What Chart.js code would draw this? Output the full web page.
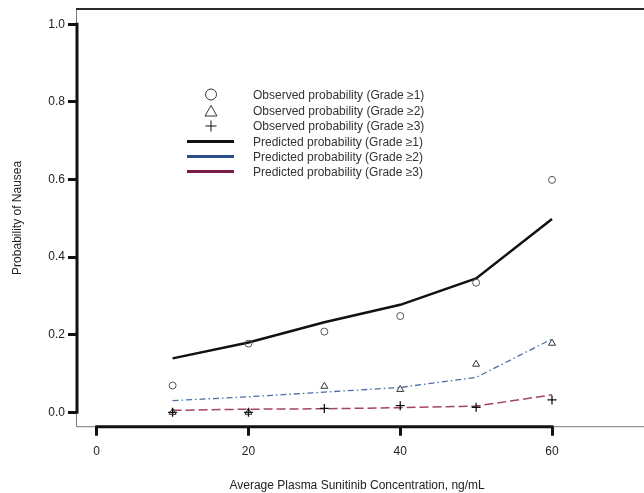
<!DOCTYPE html>
<html><head><meta charset="utf-8">
<script src="https://cdn.jsdelivr.net/npm/chart.js@4"></script>
<style>html,body{margin:0;padding:0;background:#fff}#wrap{width:644px;height:493px;position:relative}</style>
</head><body><div id="wrap"><canvas id="c" width="644" height="493"></canvas></div>
<script>
const concentrations = [10, 20, 30, 40, 50, 60];
const observedG1 = [0.069, 0.177, 0.208, 0.248, 0.334, 0.599];
const observedG2 = [0.000, 0.000, 0.067, 0.059, 0.124, 0.178];
const observedG3 = [0.000, 0.000, 0.010, 0.017, 0.013, 0.032];
const predictedG1 = [0.139, 0.180, 0.232, 0.277, 0.345, 0.498];
const predictedG2 = [0.030, 0.040, 0.052, 0.064, 0.090, 0.189];
const predictedG3 = [0.005, 0.008, 0.009, 0.012, 0.016, 0.045];
const xTicks = [0, 20, 40, 60];
const yTicks = [0.0, 0.2, 0.4, 0.6, 0.8, 1.0];
const legendLabels = [
  'Observed probability (Grade \u22651)',
  'Observed probability (Grade \u22652)',
  'Observed probability (Grade \u22653)',
  'Predicted probability (Grade \u22651)',
  'Predicted probability (Grade \u22652)',
  'Predicted probability (Grade \u22653)'
];

const pts = arr => concentrations.map((x, i) => ({x: x, y: arr[i]}));
const FONT = 'Liberation Sans, Arial, sans-serif';

const frame = {
  id: 'frame',
  afterDraw(chart) {
    const ctx = chart.ctx, a = chart.chartArea;
    const xs = chart.scales.x, ys = chart.scales.y;
    ctx.save();
    ctx.strokeStyle = '#777'; ctx.lineWidth = 1;
    ctx.beginPath();
    ctx.moveTo(a.left + 0.5, a.top); ctx.lineTo(a.left + 0.5, a.bottom);
    ctx.lineTo(chart.width, a.bottom);
    ctx.stroke();
    ctx.strokeStyle = '#2a2a2a'; ctx.lineWidth = 2;
    ctx.beginPath(); ctx.moveTo(a.left, a.top); ctx.lineTo(chart.width, a.top); ctx.stroke();
    ctx.strokeStyle = '#111'; ctx.lineWidth = 3; ctx.lineCap = 'butt';
    ctx.beginPath();
    ctx.moveTo(a.left + 1, ys.getPixelForValue(1.0) - 1.5);
    ctx.lineTo(a.left + 1, ys.getPixelForValue(0.0) + 1.5);
    ctx.stroke();
    ctx.beginPath();
    ctx.moveTo(xs.getPixelForValue(0) - 1.5, a.bottom);
    ctx.lineTo(xs.getPixelForValue(60) + 1.5, a.bottom);
    ctx.stroke();
    // legend
    const symX = 211, lineX0 = 187, lineX1 = 234, textX = 253;
    const rows = [95, 111, 126, 141.5, 156.5, 171.5];
    ctx.font = '12px ' + FONT; ctx.fillStyle = '#333'; ctx.textBaseline = 'middle'; ctx.textAlign = 'left';
    legendLabels.forEach((t, i) => ctx.fillText(t, textX, rows[i] + 1));
    ctx.strokeStyle = '#333'; ctx.lineWidth = 1;
    ctx.beginPath(); ctx.ellipse(symX, rows[0] - 0.5, 5.5, 5.5, 0, 0, Math.PI * 2); ctx.stroke();
    ctx.beginPath();
    ctx.moveTo(symX, rows[1] - 5.5); ctx.lineTo(symX + 6, rows[1] + 5); ctx.lineTo(symX - 6, rows[1] + 5); ctx.closePath(); ctx.stroke();
    ctx.strokeStyle = '#111';
    ctx.beginPath();
    ctx.moveTo(symX - 5.5, rows[2]); ctx.lineTo(symX + 5.5, rows[2]);
    ctx.moveTo(symX, rows[2] - 5.5); ctx.lineTo(symX, rows[2] + 5.5); ctx.stroke();
    const lc = ['#111', '#2b4f8a', '#7a1a45'];
    ctx.lineWidth = 3;
    lc.forEach((c, i) => {
      ctx.strokeStyle = c; ctx.beginPath();
      ctx.moveTo(lineX0, rows[3 + i]); ctx.lineTo(lineX1, rows[3 + i]); ctx.stroke();
    });
    ctx.restore();
  }
};

const chart = new Chart(document.getElementById('c'), {
  type: 'scatter',
  data: {
    datasets: [
      {label: legendLabels[3], data: pts(predictedG1), showLine: true, borderColor: '#111', borderWidth: 2.5, pointRadius: 0, order: 6},
      {label: legendLabels[4], data: pts(predictedG2), showLine: true, borderColor: '#4a6ca4', borderWidth: 1.3, borderDash: [6, 3, 1.5, 3], pointRadius: 0, order: 5},
      {label: legendLabels[5], data: pts(predictedG3), showLine: true, borderColor: '#a4426e', borderWidth: 1.5, borderDash: [9, 4], pointRadius: 0, order: 4},
      {label: legendLabels[0], data: pts(observedG1), pointStyle: 'circle', pointRadius: 3.5, borderColor: '#555', backgroundColor: 'rgba(255,255,255,0)', borderWidth: 1, order: 3},
      {label: legendLabels[1], data: pts(observedG2), pointStyle: 'triangle', pointRadius: 4, borderColor: '#333', backgroundColor: 'rgba(255,255,255,0)', borderWidth: 1, order: 2},
      {label: legendLabels[2], data: pts(observedG3), pointStyle: 'cross', pointRadius: 4.5, borderColor: '#111', borderWidth: 1.3, order: 1}
    ]
  },
  options: {
    responsive: false, animation: false, devicePixelRatio: 1,
    layout: {padding: {top: 9, right: 0, left: 0, bottom: 0}},
    plugins: {legend: {display: false}, tooltip: {enabled: false}},
    scales: {
      x: {
        type: 'linear', min: -2.72, max: 72.1,
        afterBuildTicks: s => { s.ticks = xTicks.map(v => ({value: v})); },
        afterFit: s => { s.height = 66.3; s.paddingRight = 0; s.paddingLeft = 0; },
        border: {display: false},
        grid: {display: true, drawOnChartArea: false, drawTicks: true, tickLength: 9, tickWidth: 3, tickColor: '#111'},
        ticks: {font: {family: FONT, size: 12}, color: '#222', padding: 9, maxRotation: 0, callback: v => String(v)},
        title: {display: true, text: 'Average Plasma Sunitinib Concentration, ng/mL', font: {family: FONT, size: 12}, color: '#222', padding: {top: 12, bottom: 0}}
      },
      y: {
        type: 'linear', min: -0.037, max: 1.039,
        afterBuildTicks: s => { s.ticks = yTicks.map(v => ({value: v})); },
        afterFit: s => { s.width = 76; s.paddingTop = 0; s.paddingBottom = 0; },
        border: {display: false},
        grid: {display: true, drawOnChartArea: false, drawTicks: true, tickLength: 8, tickWidth: 3, tickColor: '#111'},
        ticks: {font: {family: FONT, size: 12}, color: '#222', padding: 3, callback: v => v.toFixed(1)},
        title: {display: true, text: 'Probability of Nausea', font: {family: FONT, size: 12}, color: '#222', padding: {top: 10, bottom: 4}}
      }
    }
  },
  plugins: [frame]
});

// Fit the axis ranges so that the ticks sit where they do in the reference
(function calibrate() {
  const a = chart.chartArea;
  const x0px = 96.7, x60px = 552, y0px = 412.3, y1px = 24.3;
  const kx = (x60px - x0px) / 60;
  const ky = (y0px - y1px) / 1.0;
  chart.options.scales.x.min = (a.left - x0px) / kx;
  chart.options.scales.x.max = (a.right - x0px) / kx;
  chart.options.scales.y.max = (y0px - a.top) / ky;
  chart.options.scales.y.min = (y0px - a.bottom) / ky;
  chart.update('none');
})();
</script></body></html>
